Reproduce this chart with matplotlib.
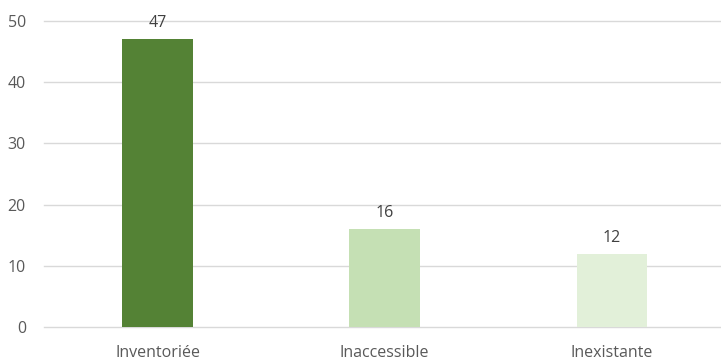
import matplotlib.pyplot as plt

categories = ["Inventoriée", "Inaccessible", "Inexistante"]
values = [47, 16, 12]
colors = ["#548235", "#C5E0B4", "#E2F0D9"]

plt.rcParams["font.family"] = ["Open Sans", "DejaVu Sans"]

fig = plt.figure(figsize=(7.21, 3.63), dpi=100)
ax = fig.add_axes([0.061, 0.099, 0.945, 0.843])

x = range(len(categories))
bars = ax.bar(x, values, width=0.31, color=colors, zorder=3)
for b, v in zip(bars, values):
    ax.text(b.get_x() + b.get_width() / 2, v + 1.3, str(v),
            ha="center", va="bottom", fontsize=11.5, color="#404040")

ax.set_ylim(0, 50)
ax.set_xlim(-0.5, 2.5)
ax.set_yticks(range(0, 51, 10))
ax.set_xticks(list(x))
ax.set_xticklabels(categories)
ax.grid(axis="y", color="#d9d9d9", linewidth=1, zorder=0)
for gl in ax.get_ygridlines():
    gl.set_clip_on(False)
for s in ax.spines.values():
    s.set_visible(False)
ax.tick_params(length=0, labelsize=11.5, colors="#595959")
ax.tick_params(axis="x", pad=13)
ax.tick_params(axis="y", pad=13)

plt.savefig("out.png", dpi=100)
